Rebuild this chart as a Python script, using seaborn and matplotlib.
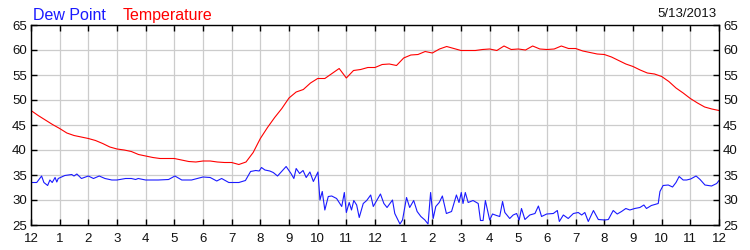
import matplotlib
matplotlib.use("Agg")
import matplotlib.pyplot as plt
import seaborn as sns
import pandas as pd
import numpy as np

# ---- data ----
temp_hours = [i * 0.25 for i in range(97)]
temp_values = [
    47.9, 46.9, 46.0, 45.1, 44.3, 43.4, 42.9, 42.6, 42.3, 41.9, 41.3, 40.6,
    40.2, 40.0, 39.7, 39.1, 38.8, 38.5, 38.3, 38.3, 38.3, 38.0, 37.7, 37.6,
    37.8, 37.8, 37.6, 37.5, 37.5, 37.1, 37.6, 39.5, 42.3, 44.5, 46.5, 48.3,
    50.4, 51.6, 52.1, 53.4, 54.3, 54.3, 55.3, 56.3, 54.4, 55.9, 56.1, 56.5,
    56.5, 57.1, 57.2, 56.9, 58.4, 59.0, 59.1, 59.7, 59.4, 60.2, 60.7, 60.3,
    59.9, 59.9, 59.9, 60.1, 60.2, 59.9, 60.8, 60.1, 60.2, 60.0, 60.8, 60.2,
    60.1, 60.2, 60.8, 60.3, 60.3, 59.8, 59.5, 59.2, 59.1, 58.6, 57.9, 57.2,
    56.7, 56.0, 55.4, 55.2, 54.7, 53.7, 52.4, 51.4, 50.3, 49.4, 48.6, 48.2,
    47.9,
]

dew_hours = [
    0.0, 0.2, 0.37, 0.45, 0.58, 0.66, 0.74, 0.84, 0.9, 0.95, 1.18, 1.42, 1.5,
    1.6, 1.76, 2.0, 2.18, 2.38, 2.58, 2.82, 3.0, 3.3, 3.5, 3.65, 3.74, 4.0,
    4.44, 4.8, 5.02, 5.26, 5.6, 6.0, 6.25, 6.48, 6.65, 6.9, 7.25, 7.48, 7.66,
    7.84, 7.96, 8.04, 8.16, 8.33, 8.45, 8.6, 8.74, 8.9, 9.07, 9.17, 9.25,
    9.37, 9.49, 9.6, 9.73, 9.85, 10.01, 10.08, 10.16, 10.25, 10.37, 10.49,
    10.66, 10.84, 10.93, 11.0, 11.1, 11.18, 11.26, 11.36, 11.45, 11.59,
    11.71, 11.85, 11.94, 12.05, 12.19, 12.31, 12.42, 12.61, 12.69, 12.87,
    12.96, 13.1, 13.21, 13.35, 13.47, 13.6, 13.74, 13.85, 13.94, 14.03,
    14.12, 14.24, 14.35, 14.49, 14.67, 14.84, 14.93, 15.01, 15.07, 15.15,
    15.25, 15.42, 15.6, 15.68, 15.77, 15.85, 16.0, 16.1, 16.24, 16.35,
    16.45, 16.53, 16.7, 16.82, 16.94, 17.03, 17.11, 17.23, 17.4, 17.58,
    17.7, 17.81, 17.99, 18.22, 18.36, 18.43, 18.57, 18.74, 18.92, 19.09,
    19.21, 19.32, 19.44, 19.62, 19.79, 20.02, 20.14, 20.31, 20.45, 20.6,
    20.75, 20.89, 21.06, 21.24, 21.38, 21.47, 21.64, 21.82, 21.88, 21.94,
    22.05, 22.23, 22.38, 22.5, 22.61, 22.75, 22.87, 23.01, 23.2, 23.34,
    23.51, 23.74, 23.92, 24.0,
]
dew_values = [
    33.5, 33.5, 34.8, 33.5, 32.9, 34.0, 33.5, 34.5, 33.6, 34.3, 34.9, 35.1,
    34.8, 35.2, 34.3, 34.8, 34.3, 34.8, 34.3, 34.0, 34.0, 34.3, 34.3, 34.1,
    34.3, 34.0, 34.0, 34.1, 34.8, 34.0, 34.0, 34.6, 34.5, 33.8, 34.3, 33.5,
    33.5, 33.9, 35.7, 35.9, 35.8, 36.5, 36.0, 35.8, 35.5, 34.8, 35.7, 36.7,
    35.3, 34.3, 36.3, 35.3, 35.9, 34.5, 35.6, 33.7, 35.6, 30.0, 31.7, 28.0,
    30.7, 30.8, 30.3, 28.7, 31.5, 27.5, 29.5, 28.0, 29.9, 29.0, 26.5, 29.3,
    29.9, 31.0, 28.7, 29.8, 31.2, 29.3, 28.5, 30.0, 27.3, 25.2, 26.0, 30.5,
    28.5, 29.9, 27.7, 26.7, 26.0, 25.2, 31.5, 26.3, 28.7, 29.5, 30.8, 27.3,
    27.7, 31.0, 29.5, 31.5, 29.3, 31.5, 29.5, 29.9, 29.3, 25.9, 25.9, 29.9,
    26.0, 27.2, 26.9, 26.7, 29.7, 27.5, 26.3, 27.0, 27.3, 26.0, 28.3, 26.1,
    27.0, 27.3, 28.8, 26.7, 27.2, 27.3, 27.9, 25.7, 27.0, 26.3, 27.3, 27.5,
    27.0, 27.5, 25.7, 27.9, 26.1, 26.0, 26.1, 27.9, 27.2, 27.7, 28.3, 28.0,
    28.3, 28.5, 29.0, 28.3, 28.9, 29.2, 29.3, 31.7, 32.9, 33.0, 32.6, 33.5,
    34.7, 34.0, 34.0, 34.2, 34.8, 34.1, 33.0, 32.8, 33.3, 33.9,
]

x_tick_labels = ["12", "1", "2", "3", "4", "5", "6", "7", "8", "9", "10", "11",
                 "12", "1", "2", "3", "4", "5", "6", "7", "8", "9", "10", "11", "12"]
y_ticks = [25, 30, 35, 40, 45, 50, 55, 60, 65]
date_label = "5/13/2013"

temp_df = pd.DataFrame({"hour": temp_hours, "value": temp_values})
dew_df = pd.DataFrame({"hour": dew_hours, "value": dew_values})

# ---- style ----
sns.set_theme(style="ticks")
plt.rcParams["font.family"] = ["Liberation Sans", "DejaVu Sans"]

fig = plt.figure(figsize=(7.5, 2.5), dpi=100)
ax = fig.add_axes([31 / 750, 1 - 225 / 250, 688 / 750, 200 / 250])

sns.lineplot(data=dew_df, x="hour", y="value", ax=ax, color="#1a1aff",
             linewidth=0.8, estimator=None)
sns.lineplot(data=temp_df, x="hour", y="value", ax=ax, color="#ff0000",
             linewidth=0.8, estimator=None)

ax.set_xlim(0, 24)
ax.set_ylim(25, 65)
ax.set_xticks(range(25))
ax.set_xticklabels(x_tick_labels)
ax.set_yticks(y_ticks)
ax.set_xlabel("")
ax.set_ylabel("")
ax.grid(True, color="#cccccc", linewidth=0.9)
ax.set_axisbelow(True)
for s in ax.spines.values():
    s.set_color("black")
    s.set_linewidth(1.0)
    s.set_visible(True)
ax.tick_params(axis="both", direction="in", length=4, width=1, color="black",
               labelsize=9.5, labelcolor="#111111",
               top=True, right=True, labelright=True)
ax.tick_params(axis="x", pad=6)
ax.tick_params(axis="y", pad=3)

fig.text(33 / 750, 1 - 20 / 250, "Dew Point", color="#1a1aff", fontsize=11.5,
         ha="left", va="baseline")
fig.text(123 / 750, 1 - 20 / 250, "Temperature", color="#ff0000", fontsize=11.5,
         ha="left", va="baseline")
fig.text(717 / 750, 1 - 17 / 250, date_label, color="#111111", fontsize=9.5,
         ha="right", va="baseline")

fig.savefig("out.png", dpi=100)
